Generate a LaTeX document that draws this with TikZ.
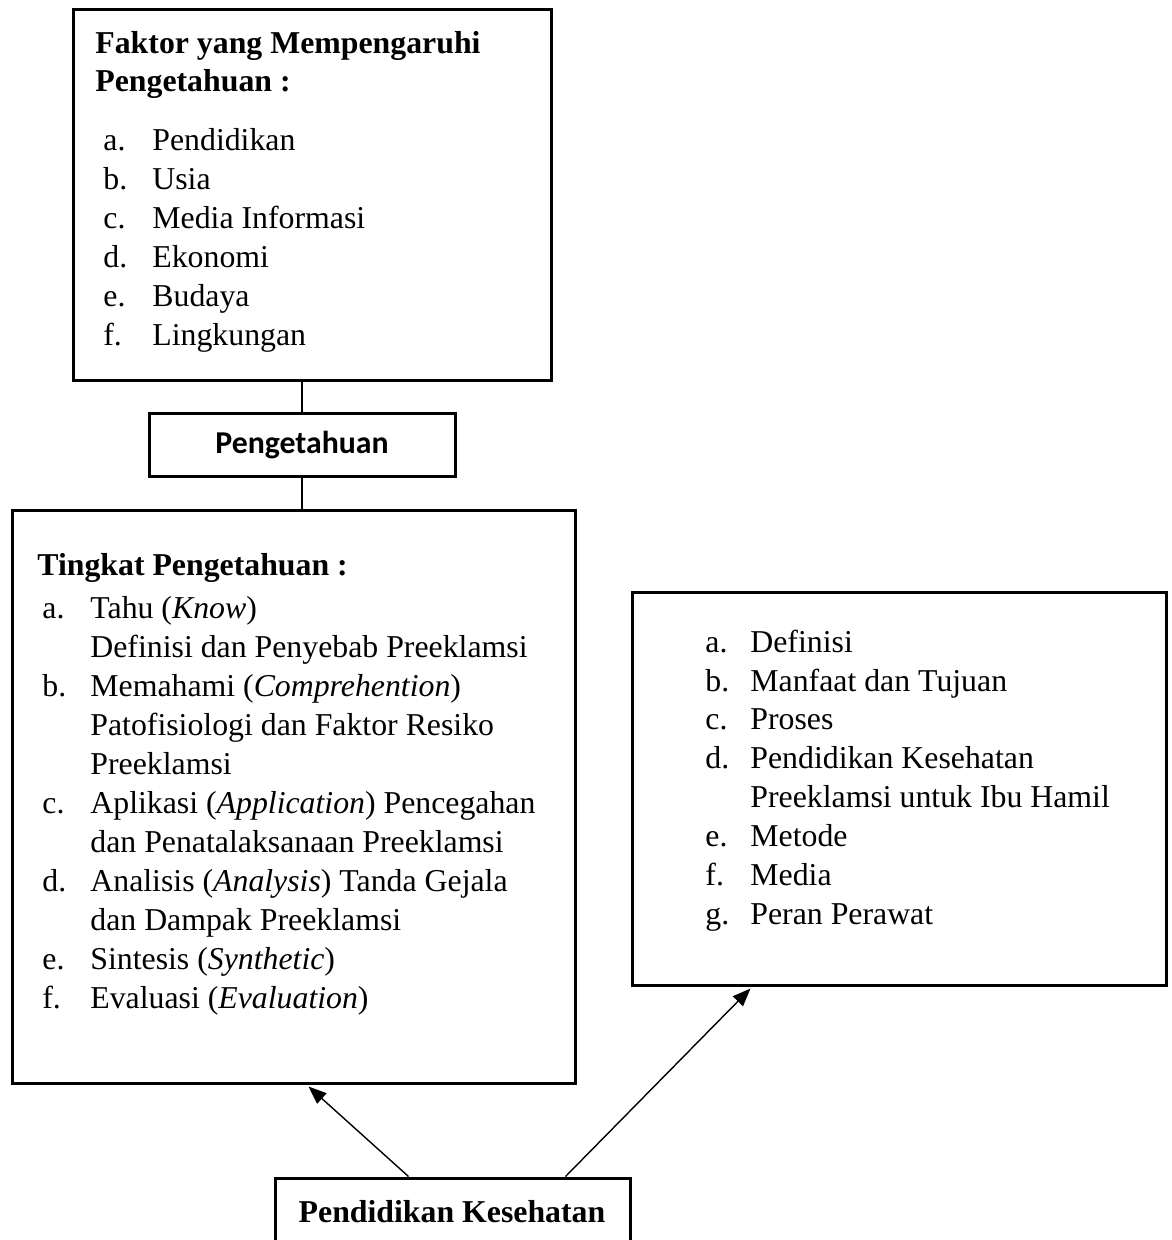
\documentclass[tikz,border=0pt]{standalone}
\usepackage{fontspec}
\setmainfont{Liberation Serif}
\newfontfamily\carlito{Carlito}
\usetikzlibrary{arrows.meta,calc}
\newcommand\fs{\fontsize{15.9}{19.5}\selectfont}
\begin{document}
\begin{tikzpicture}[x=0.5pt,y=-0.5pt,
  box/.style={draw, line width=1.5pt, inner sep=0pt, rectangle},
  txt/.style={anchor=base west, inner sep=0pt, font=\fs},
  hdr/.style={anchor=base west, inner sep=0pt, font=\fs\bfseries},
  conn/.style={line width=0.6pt},
  arr/.style={line width=0.7pt, -{Triangle[length=9pt,width=7pt]}}]
\useasboundingbox (0,0) rectangle (1171,1240);
% boxes
\node[box, minimum width=239pt, minimum height=185.5pt] (fak) at (312,195.5) {};
\node[box, minimum width=153pt, minimum height=31pt, font=\carlito\bfseries\fs] (pen) at (302,445) {Pengetahuan};
\node[box, minimum width=281.5pt, minimum height=286.5pt] (tin) at (293.5,796.5) {};
\node[box, minimum width=267pt, minimum height=196.5pt] (rig) at (899,788.5) {};
\node[box, minimum width=177.5pt, minimum height=42pt] (pk) at (452.5,1220) {};
% top box text
\node[hdr] (f0) at (95,54) {Faktor yang Mempengaruhi};
\node[hdr] (f1) at (95,92) {Pengetahuan :};
\node[txt] (fa) at (103,151) {a.}; \node[txt] (fat) at (152,151) {Pendidikan};
\node[txt] (fb) at (103,190) {b.}; \node[txt] (fbt) at (152,190) {Usia};
\node[txt] (fc) at (103,229) {c.}; \node[txt] (fct) at (152,229) {Media Informasi};
\node[txt] (fd) at (103,268) {d.}; \node[txt] (fdt) at (152,268) {Ekonomi};
\node[txt] (fe) at (103,307) {e.}; \node[txt] (fet) at (152,307) {Budaya};
\node[txt] (ff) at (103,346) {f.}; \node[txt] (fft) at (152,346) {Lingkungan};
% tingkat box text
\node[hdr] (t0) at (37,575) {Tingkat Pengetahuan :};
\node[txt] (ta) at (42,618) {a.}; \node[txt] (ta1) at (90,618) {Tahu (\textit{Know})};
\node[txt] (ta2) at (90,657) {Definisi dan Penyebab Preeklamsi};
\node[txt] (tb) at (42,696) {b.}; \node[txt] (tb1) at (90,696) {Memahami (\textit{Comprehention})};
\node[txt] (tb2) at (90,735) {Patofisiologi dan Faktor Resiko};
\node[txt] (tb3) at (90,774) {Preeklamsi};
\node[txt] (tc) at (42,813) {c.}; \node[txt] (tc1) at (90,813) {Aplikasi (\textit{Application}) Pencegahan};
\node[txt] (tc2) at (90,852) {dan Penatalaksanaan Preeklamsi};
\node[txt] (td) at (42,891) {d.}; \node[txt] (td1) at (90,891) {Analisis (\textit{Analysis}) Tanda Gejala};
\node[txt] (td2) at (90,930) {dan Dampak Preeklamsi};
\node[txt] (te) at (42,969) {e.}; \node[txt] (te1) at (90,969) {Sintesis (\textit{Synthetic})};
\node[txt] (tf) at (42,1008) {f.}; \node[txt] (tf1) at (90,1008) {Evaluasi (\textit{Evaluation})};
% right box text
\node[txt] (ra) at (705,652) {a.}; \node[txt] (ra1) at (750,652) {Definisi};
\node[txt] (rb) at (705,691) {b.}; \node[txt] (rb1) at (750,691) {Manfaat dan Tujuan};
\node[txt] (rc) at (705,729) {c.}; \node[txt] (rc1) at (750,729) {Proses};
\node[txt] (rd) at (705,768) {d.}; \node[txt] (rd1) at (750,768) {Pendidikan Kesehatan};
\node[txt] (rd2) at (750,807) {Preeklamsi untuk Ibu Hamil};
\node[txt] (re) at (705,846) {e.}; \node[txt] (re1) at (750,846) {Metode};
\node[txt] (rf) at (705,885) {f.}; \node[txt] (rf1) at (750,885) {Media};
\node[txt] (rg) at (705,924) {g.}; \node[txt] (rg1) at (750,924) {Peran Perawat};
% bottom box text
\node[hdr, anchor=base] (pkt) at (452,1222) {Pendidikan Kesehatan};
% connectors
\draw[conn] (pen.north) -- (pen.north |- fak.south);
\draw[conn] (pen.south) -- (pen.south |- tin.north);
\coordinate (s1) at ($(pk.north west)+(135,0)$);
\coordinate (s2) at ($(pk.north west)+(292,0)$);
\coordinate (e1) at ($(tin.south west)+(298,2)$);
\coordinate (e2) at ($(rig.south west)+(120,2)$);
\draw[arr] (s1) -- (e1);
\draw[arr] (s2) -- (e2);
\end{tikzpicture}
\end{document}
